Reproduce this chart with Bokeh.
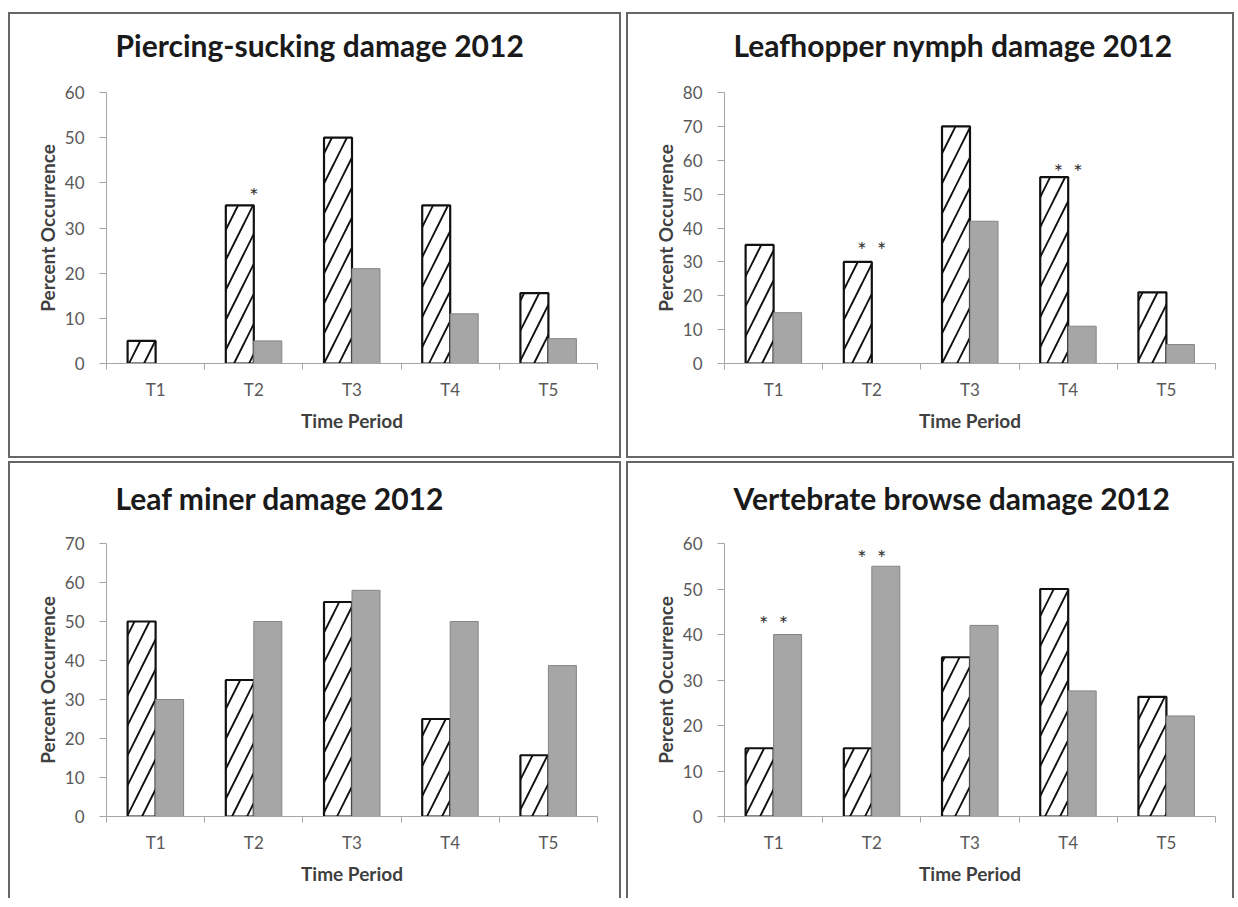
from bokeh.plotting import figure
from bokeh.models import Range1d, FixedTicker, ColumnDataSource, Spacer, Title
from bokeh.layouts import row, column
from bokeh.transform import dodge
from bokeh.core.properties import value
from bokeh.embed import file_html
from bokeh.resources import INLINE

# ---------------- data ----------------
categories = ["T1", "T2", "T3", "T4", "T5"]

piercing_hatched = [5, 35, 50, 35, 15.6]
piercing_gray = [0, 5, 21, 11, 5.5]
piercing_star_cat = ["T2"]
piercing_star_y = [37.2]
piercing_star_n = [1]

leafhopper_hatched = [35, 30, 70, 55, 21]
leafhopper_gray = [15, 0, 42, 11, 5.6]
leafhopper_star_cat = ["T2", "T4"]
leafhopper_star_y = [33.7, 56.8]
leafhopper_star_n = [2, 2]

miner_hatched = [50, 35, 55, 25, 15.7]
miner_gray = [30, 50, 58, 50, 38.7]
miner_star_cat = []
miner_star_y = []
miner_star_n = []

vert_hatched = [15, 15, 35, 50, 26.3]
vert_gray = [40, 55, 42, 27.6, 22.1]
vert_star_cat = ["T1", "T2"]
vert_star_y = [42.4, 57.0]
vert_star_n = [2, 2]

titles = ["Piercing-sucking damage 2012", "Leafhopper nymph damage 2012",
          "Leaf miner damage 2012", "Vertebrate browse damage 2012"]
y_max = [60, 80, 70, 60]

FONT = "Lato"
AXIS_COL = "#a6a6a6"
LABEL_COL = "#595959"
BAR_W = 0.285
STAR_GAP = 0.2


def make_panel(title, hatched, gray, ymax, star_cat, star_y, star_n,
               width, height, top, bottom, right, title_gap, bottom_border=True):
    centers = [i + 0.5 for i in range(len(categories))]
    p = figure(width=width, height=height, title=None,
               x_range=Range1d(0, len(categories)), y_range=Range1d(0, ymax),
               output_backend="svg", toolbar_location=None,
               min_border_left=96, min_border_right=right,
               min_border_top=top, min_border_bottom=bottom)
    border = "2px solid #666666"
    st = {"border-left": border, "border-right": border, "border-top": border}
    if bottom_border:
        st["border-bottom"] = border
    p.styles = st
    p.outline_line_color = None
    p.xgrid.visible = False
    p.ygrid.visible = False
    p.background_fill_color = "white"
    p.border_fill_color = "white"

    # spacer between title and frame, then title
    p.add_layout(Title(text=" ", text_font=FONT, text_font_size="18px", standoff=title_gap), "above")
    p.add_layout(Title(text=title, align="left", offset=9, text_font=FONT,
                       text_font_size="30px", text_font_style="bold",
                       text_color="#1a1a1a", standoff=0), "above")

    hs = ColumnDataSource(dict(x=[c for c, v in zip(centers, hatched) if v > 0],
                               top=[v for v in hatched if v > 0]))
    gs = ColumnDataSource(dict(x=[c for c, v in zip(centers, gray) if v > 0],
                               top=[v for v in gray if v > 0]))
    p.vbar(x=dodge("x", -BAR_W / 2, range=p.x_range), top="top", width=BAR_W, source=hs,
           fill_color="white", line_color="#111111", line_width=2.2,
           hatch_pattern="/", hatch_color="#111111", hatch_scale=30, hatch_weight=1.9)
    p.vbar(x=dodge("x", BAR_W / 2, range=p.x_range), top="top", width=BAR_W, source=gs,
           fill_color="#a6a6a6", line_color="#858585", line_width=1)

    # significance asterisks
    sx, sy = [], []
    for cat, yv, n in zip(star_cat, star_y, star_n):
        c = categories.index(cat) + 0.5
        for k in range(n):
            sx.append(c + (k - (n - 1) / 2) * STAR_GAP)
            sy.append(yv)
    if sx:
        ss = ColumnDataSource(dict(x=sx, y=sy, t=["*"] * len(sx)))
        p.text(x="x", y="y", text="t", source=ss, text_align="center",
               text_baseline="middle", text_font=value(FONT),
               text_font_size="22px", text_color="#333333")

    # x axis
    xa = p.xaxis[0]
    xa.ticker = FixedTicker(ticks=centers, minor_ticks=list(range(len(categories) + 1)))
    xa.major_label_overrides = {c: cat for c, cat in zip(centers, categories)}
    xa.major_tick_line_color = None
    xa.major_tick_out = 0
    xa.major_tick_in = 0
    xa.minor_tick_in = 0
    xa.minor_tick_out = 6
    xa.minor_tick_line_color = AXIS_COL
    xa.axis_line_color = AXIS_COL
    xa.major_label_text_font = FONT
    xa.major_label_text_font_size = "17px"
    xa.major_label_text_color = LABEL_COL
    xa.major_label_standoff = 9
    xa.axis_label = "Time Period"
    xa.axis_label_text_font = FONT
    xa.axis_label_text_font_size = "19px"
    xa.axis_label_text_font_style = "bold"
    xa.axis_label_text_color = "#404040"
    xa.axis_label_standoff = 6

    # y axis
    ya = p.yaxis[0]
    ya.ticker = FixedTicker(ticks=list(range(0, ymax + 1, 10)), minor_ticks=[])
    ya.major_tick_in = 0
    ya.major_tick_out = 7
    ya.major_tick_line_color = AXIS_COL
    ya.minor_tick_line_color = None
    ya.axis_line_color = AXIS_COL
    ya.major_label_text_font = FONT
    ya.major_label_text_font_size = "17px"
    ya.major_label_text_color = LABEL_COL
    ya.major_label_standoff = 15
    ya.axis_label = "Percent Occurrence"
    ya.axis_label_text_font = FONT
    ya.axis_label_text_font_size = "19px"
    ya.axis_label_text_font_style = "bold"
    ya.axis_label_text_color = "#404040"
    ya.axis_label_standoff = 3
    return p


p1 = make_panel(titles[0], piercing_hatched, piercing_gray, y_max[0],
                piercing_star_cat, piercing_star_y, piercing_star_n,
                613, 446, 78, 97, 26, 6)
p2 = make_panel(titles[1], leafhopper_hatched, leafhopper_gray, y_max[1],
                leafhopper_star_cat, leafhopper_star_y, leafhopper_star_n,
                608, 446, 78, 97, 21, 6)
p3 = make_panel(titles[2], miner_hatched, miner_gray, y_max[2],
                miner_star_cat, miner_star_y, miner_star_n,
                613, 437, 80, 84, 26, 4, bottom_border=False)
p4 = make_panel(titles[3], vert_hatched, vert_gray, y_max[3],
                vert_star_cat, vert_star_y, vert_star_n,
                608, 437, 80, 84, 21, 4, bottom_border=False)

layout = column(Spacer(width=10, height=9),
                row(Spacer(width=3, height=10), p1, p2, spacing=5),
                row(Spacer(width=3, height=10), p3, p4, spacing=5),
                spacing=3)

open("out.html", "w").write(file_html(layout, INLINE))
